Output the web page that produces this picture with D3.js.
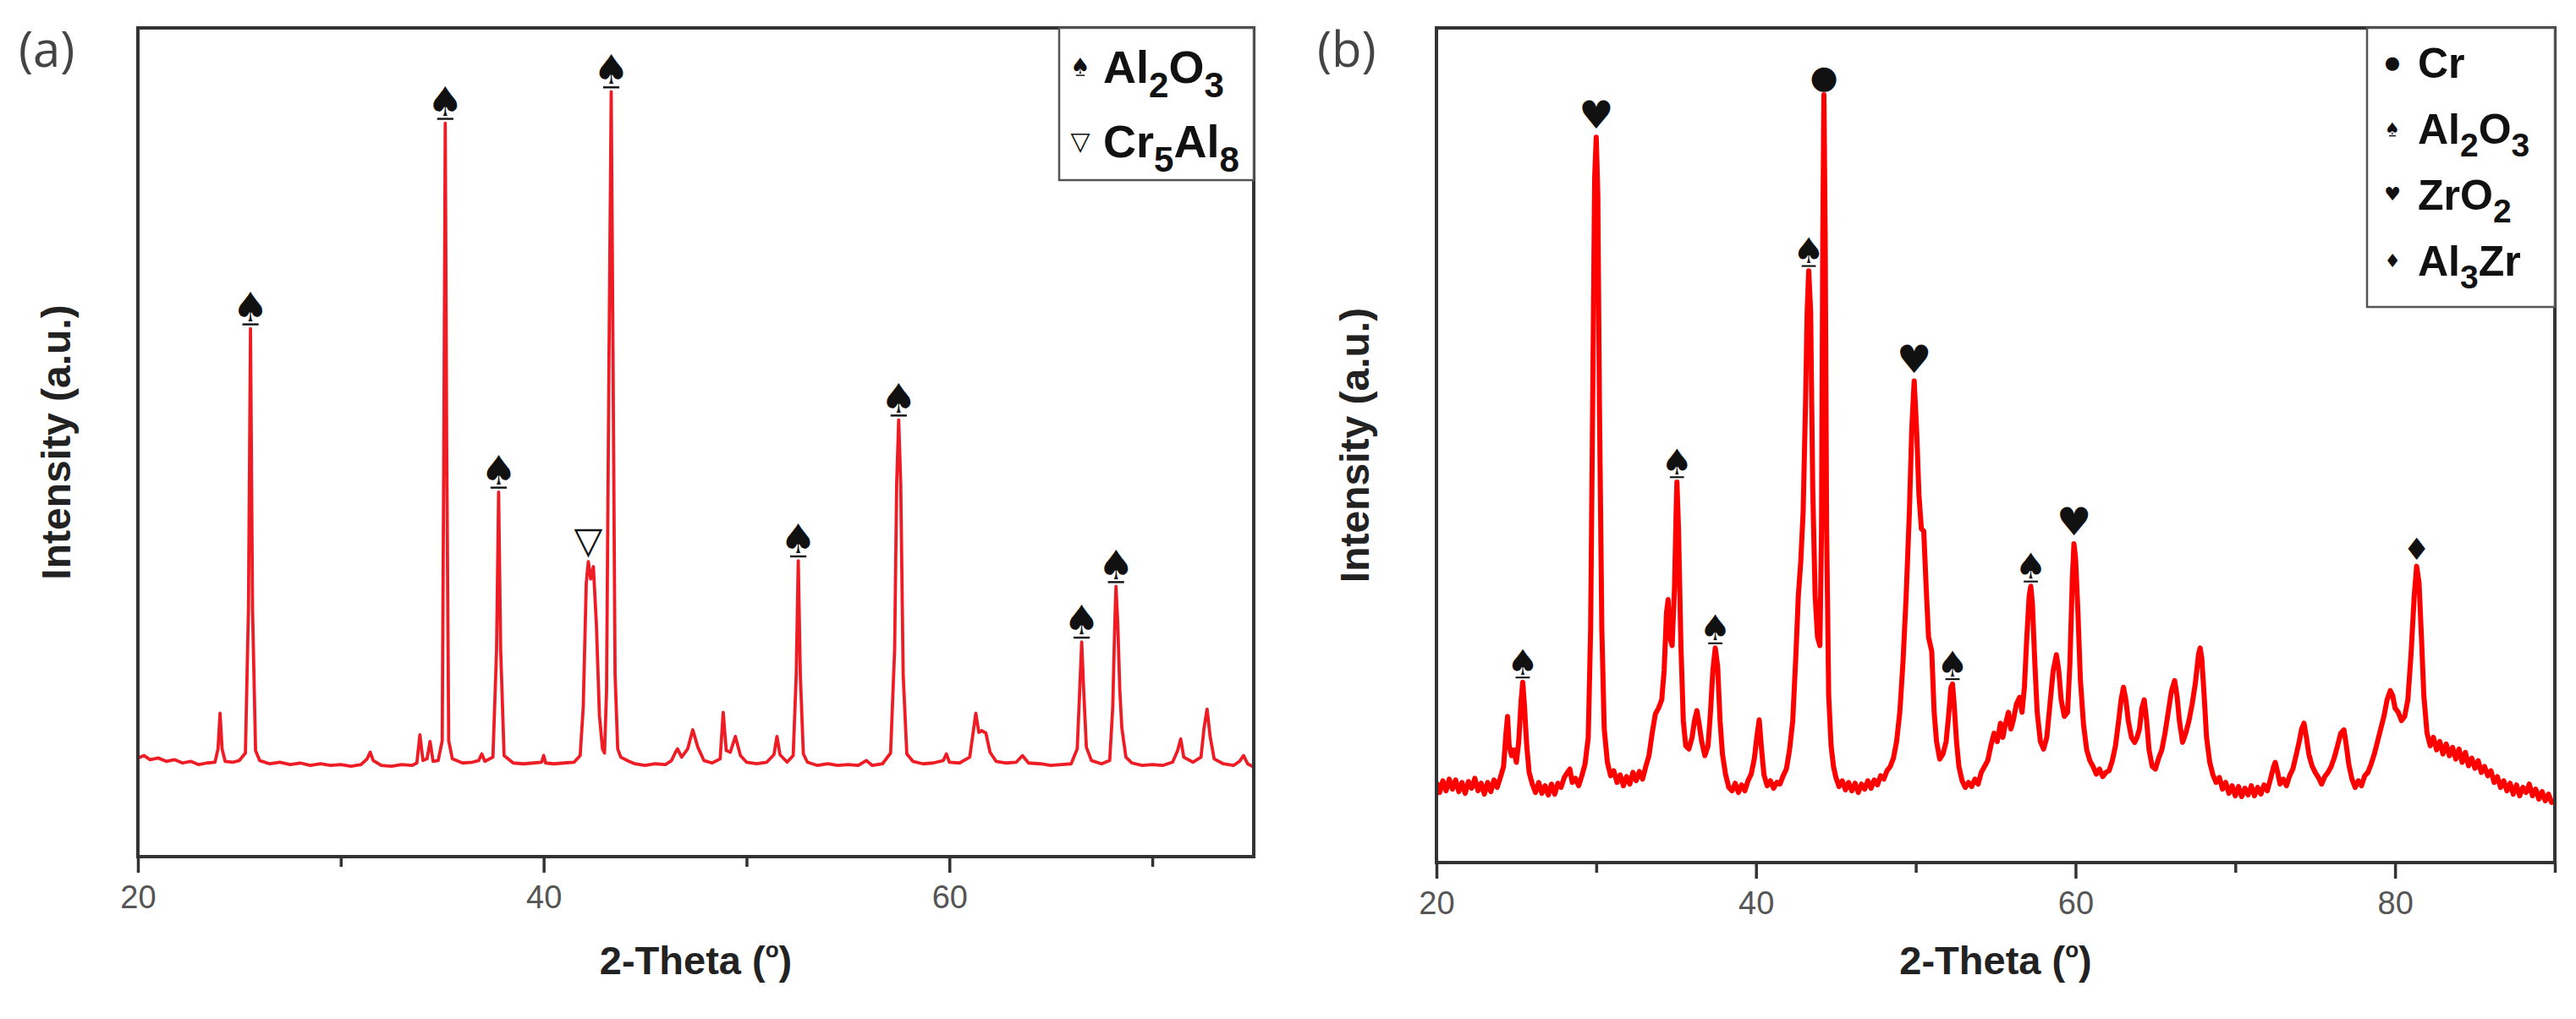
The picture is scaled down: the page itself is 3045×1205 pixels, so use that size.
<!DOCTYPE html>
<html>
<head>
<meta charset="utf-8">
<script src="https://cdn.jsdelivr.net/npm/d3@7"></script>
<style>
  body { margin: 0; background: #fff; }
</style>
</head>
<body>
<svg id="chart" width="3045" height="1205"></svg>
<script>

// ---- data (2-theta in degrees, intensity in a.u. 0-100) ----

var ticksMajorA = [20, 40, 60];
var ticksMinorA = [30, 50, 70];
var ticksMajorB = [20, 40, 60, 80];
var ticksMinorB = [30, 50, 70, 90];

var traceA = "20.0 11.9, 20.3 12.2, 20.6 11.7, 21.0 11.9, 21.4 11.5, 21.8 11.7, 22.2 11.3, 22.6 11.5, 23.0 11.1, 23.4 11.3, 23.8 11.4, 23.95 13.0, 24.05 17.3, 24.15 13.0, 24.3 11.5, 24.7 11.4, 25.0 11.6, 25.3 12.5, 25.45 30, 25.55 63.7, 25.65 30, 25.8 12.8, 26.0 11.6, 26.5 11.2, 27.0 11.4, 27.5 11.1, 28.0 11.3, 28.5 11.0, 29.0 11.2, 29.5 11.0, 30.0 11.1, 30.5 10.9, 31.0 11.1, 31.3 11.8, 31.45 12.6, 31.6 11.6, 32.0 11.0, 32.5 10.9, 33.0 11.1, 33.5 11.0, 33.75 11.3, 33.9 14.7, 34.05 11.6, 34.25 11.8, 34.4 13.9, 34.55 11.5, 34.8 11.6, 35.0 14, 35.08 50, 35.15 88.5, 35.22 50, 35.32 14, 35.5 11.8, 36.0 11.3, 36.5 11.4, 36.8 11.6, 36.95 12.4, 37.1 11.5, 37.5 12.0, 37.68 25, 37.78 44.0, 37.88 25, 38.05 12.2, 38.5 11.3, 39.0 11.2, 39.5 11.3, 39.9 11.4, 40.0 12.2, 40.1 11.3, 40.5 11.2, 41.0 11.3, 41.5 11.4, 41.8 12.2, 41.95 18, 42.1 33, 42.2 35.6, 42.32 33.5, 42.45 35.0, 42.6 28, 42.75 17, 42.9 13.0, 43.0 12.5, 43.1 20, 43.22 60, 43.33 92.3, 43.42 60, 43.52 22, 43.65 13, 43.8 12.0, 44.2 11.5, 44.5 11.2, 45.0 11.0, 45.5 11.2, 46.0 11.1, 46.3 11.6, 46.5 12.6, 46.6 13.0, 46.8 12.0, 47.1 13.0, 47.35 15.3, 47.6 13.2, 47.9 11.6, 48.3 11.3, 48.7 11.8, 48.85 17.4, 49.0 12.8, 49.2 12.6, 49.45 14.5, 49.7 12.2, 50.0 11.4, 50.5 11.2, 51.0 11.4, 51.35 12.3, 51.5 14.5, 51.65 12.3, 52.0 11.4, 52.3 12.2, 52.45 22, 52.55 35.7, 52.65 22, 52.8 12.4, 53.0 11.4, 53.5 11.0, 54.0 11.2, 54.5 11.0, 55.0 11.1, 55.5 11.0, 55.9 11.6, 56.2 11.0, 56.7 11.2, 57.1 12.5, 57.3 25, 57.4 45, 57.5 52.7, 57.6 45, 57.72 22, 57.9 12.4, 58.2 11.5, 58.7 11.2, 59.2 11.3, 59.7 11.6, 59.85 12.4, 60.0 11.4, 60.5 11.3, 61.0 12.0, 61.2 15.5, 61.3 17.3, 61.45 15.0, 61.6 15.2, 61.8 14.9, 62.0 12.6, 62.3 11.5, 62.8 11.3, 63.3 11.4, 63.6 12.2, 63.9 11.3, 64.5 11.2, 65.0 11.0, 65.5 11.1, 66.0 11.2, 66.3 13.0, 66.42 20, 66.52 25.9, 66.62 20, 66.75 13.2, 67.0 11.6, 67.5 11.2, 67.9 11.6, 68.05 18, 68.15 28, 68.21 32.6, 68.3 28, 68.4 20, 68.5 15.5, 68.7 12.0, 69.0 11.3, 69.5 11.0, 70.0 11.1, 70.5 11.0, 71.0 11.4, 71.25 12.8, 71.4 14.2, 71.55 12.0, 72.0 11.4, 72.4 12.0, 72.55 15.5, 72.7 17.8, 72.85 14.5, 73.05 11.8, 73.5 11.2, 74.0 11.0, 74.3 11.5, 74.5 12.2, 74.7 11.2, 75.0 10.8";

var traceB = "20.0 9.6, 20.2 8.4, 20.4 9.8, 20.6 8.6, 20.8 10.0, 21.0 8.8, 21.2 9.9, 21.4 8.5, 21.6 9.6, 21.8 8.3, 22.0 9.7, 22.2 8.9, 22.4 10.1, 22.6 8.6, 22.8 9.5, 23.0 8.2, 23.2 9.6, 23.4 8.5, 23.6 9.9, 23.8 9.0, 24.0 10.2, 24.2 11.5, 24.35 15.5, 24.45 17.5, 24.55 14.0, 24.7 12.8, 24.85 13.5, 25.0 12.0, 25.15 14.5, 25.3 19.5, 25.4 21.6, 25.5 19.0, 25.65 14.0, 25.8 10.8, 26.0 9.4, 26.2 8.4, 26.4 9.6, 26.6 8.3, 26.8 9.2, 27.0 8.1, 27.2 9.4, 27.4 8.2, 27.6 9.5, 27.8 9.0, 28.0 10.2, 28.2 10.8, 28.35 11.2, 28.5 9.6, 28.7 10.1, 28.9 9.2, 29.1 10.4, 29.3 11.8, 29.5 15.0, 29.65 28, 29.8 60, 29.9 82, 30.0 86.9, 30.1 80, 30.2 55, 30.35 28, 30.5 16, 30.7 12.0, 30.9 10.4, 31.1 11.0, 31.3 9.6, 31.5 10.5, 31.7 9.2, 31.9 10.3, 32.1 9.4, 32.3 10.8, 32.5 9.8, 32.7 10.9, 32.9 10.0, 33.1 11.5, 33.3 12.8, 33.5 15.5, 33.7 17.8, 33.9 18.5, 34.1 19.5, 34.25 23, 34.4 30, 34.5 31.5, 34.6 27, 34.75 26, 34.9 33, 35.0 42, 35.05 45.6, 35.15 40, 35.3 26, 35.45 17, 35.6 14.0, 35.8 13.6, 36.0 15.0, 36.15 17.0, 36.3 18.2, 36.45 16.5, 36.6 14.5, 36.8 12.8, 37.0 14.0, 37.15 18, 37.3 23, 37.45 25.7, 37.6 23.5, 37.75 17, 37.9 13.0, 38.1 10.5, 38.3 9.0, 38.5 8.6, 38.7 9.5, 38.9 8.4, 39.1 9.3, 39.3 8.6, 39.5 9.8, 39.7 10.6, 39.9 12.5, 40.05 15.0, 40.2 17.1, 40.35 13.5, 40.5 10.5, 40.7 9.2, 40.9 9.8, 41.1 8.9, 41.3 9.6, 41.5 9.4, 41.7 10.4, 41.9 11.2, 42.1 13.5, 42.3 17.0, 42.5 25, 42.65 32, 42.8 36, 42.95 42, 43.1 55, 43.2 66, 43.3 70.9, 43.42 66, 43.55 45, 43.7 32, 43.85 27, 44.0 26.0, 44.1 40, 44.18 75, 44.25 92.0, 44.33 75, 44.42 40, 44.55 20, 44.7 14.0, 44.85 11.5, 45.0 10.2, 45.2 9.1, 45.4 9.8, 45.6 8.7, 45.8 9.6, 46.0 8.6, 46.2 9.5, 46.4 8.4, 46.6 9.4, 46.8 8.8, 47.0 9.8, 47.2 8.9, 47.4 9.9, 47.6 9.3, 47.8 10.4, 48.0 10.0, 48.2 11.0, 48.4 11.5, 48.6 12.5, 48.8 14.5, 49.0 18, 49.2 24, 49.4 32, 49.6 42, 49.75 52, 49.9 57.7, 50.05 52, 50.2 44, 50.35 40, 50.5 39.7, 50.65 33, 50.8 27, 51.0 25.3, 51.15 18, 51.3 14.5, 51.5 12.4, 51.7 13.0, 51.9 14.5, 52.05 17.5, 52.2 21.0, 52.3 21.4, 52.4 19.0, 52.55 14.5, 52.7 11.5, 52.9 9.8, 53.1 9.0, 53.3 9.6, 53.5 9.1, 53.7 10.0, 53.9 9.4, 54.1 10.8, 54.3 11.5, 54.5 12.2, 54.7 14.0, 54.9 15.5, 55.1 14.5, 55.3 16.7, 55.45 15.0, 55.6 16.5, 55.8 18.0, 55.95 16.0, 56.1 17.0, 56.3 19.0, 56.5 19.8, 56.65 18.0, 56.8 21, 56.95 27, 57.1 32, 57.2 33.1, 57.3 31, 57.45 24, 57.6 18, 57.8 14.5, 58.0 13.6, 58.2 15.0, 58.4 19, 58.6 23, 58.8 24.9, 58.95 23, 59.1 19.5, 59.3 17.5, 59.5 18.0, 59.65 24, 59.8 34, 59.9 38.2, 60.0 36.5, 60.15 30, 60.3 22, 60.5 16.5, 60.7 13.5, 60.9 12.2, 61.1 11.5, 61.3 10.6, 61.5 11.2, 61.7 10.3, 61.9 10.8, 62.1 11.0, 62.3 12.2, 62.5 14.0, 62.7 17.0, 62.85 19.5, 63.0 21.0, 63.15 19.5, 63.3 17.0, 63.5 15.0, 63.7 14.4, 63.85 15.0, 64.0 16.0, 64.15 18.5, 64.3 19.5, 64.45 17.0, 64.6 13.5, 64.8 11.5, 65.0 11.2, 65.2 12.5, 65.4 13.5, 65.6 15.5, 65.8 18.0, 66.0 20.5, 66.2 21.8, 66.35 20.0, 66.5 17.0, 66.7 14.4, 66.9 15.5, 67.1 17.0, 67.3 19.0, 67.5 21.5, 67.7 25.0, 67.8 25.7, 67.9 24.5, 68.05 20.0, 68.2 15.0, 68.4 12.0, 68.6 10.5, 68.8 9.6, 69.0 10.2, 69.2 8.8, 69.4 9.6, 69.6 8.3, 69.8 9.2, 70.0 8.0, 70.2 9.1, 70.4 7.9, 70.6 8.9, 70.8 8.1, 71.0 9.2, 71.2 8.0, 71.4 9.0, 71.6 8.2, 71.8 9.3, 72.0 8.6, 72.2 10.0, 72.4 11.5, 72.5 12.0, 72.65 10.8, 72.8 9.4, 73.0 10.0, 73.2 9.2, 73.4 10.4, 73.6 11.2, 73.8 12.8, 74.0 14.5, 74.15 16.0, 74.3 16.7, 74.45 15.0, 74.6 13.0, 74.8 11.6, 75.0 10.8, 75.2 10.2, 75.4 9.4, 75.6 10.3, 75.8 10.8, 76.0 11.5, 76.2 12.6, 76.4 14.0, 76.6 15.5, 76.8 15.9, 76.95 14.0, 77.1 11.8, 77.3 10.0, 77.5 9.0, 77.7 9.8, 77.9 9.2, 78.1 10.4, 78.3 10.8, 78.5 11.8, 78.7 13.0, 78.9 14.5, 79.1 16.0, 79.3 17.5, 79.5 19.5, 79.7 20.6, 79.85 20.0, 80.0 18.5, 80.2 18.0, 80.4 17.0, 80.6 17.5, 80.8 19.5, 81.0 25, 81.2 32, 81.35 35.5, 81.5 33.5, 81.65 27, 81.8 20, 82.0 15.5, 82.2 14.0, 82.4 15.0, 82.6 13.5, 82.8 14.5, 83.0 13.0, 83.2 14.2, 83.4 12.8, 83.6 13.8, 83.8 12.4, 84.0 13.6, 84.2 12.0, 84.4 13.2, 84.6 11.6, 84.8 12.5, 85.0 11.3, 85.2 12.2, 85.4 10.8, 85.6 11.5, 85.8 10.4, 86.0 11.0, 86.2 9.6, 86.4 10.3, 86.6 9.0, 86.8 9.8, 87.0 8.6, 87.2 9.5, 87.4 8.2, 87.6 9.3, 87.8 8.0, 88.0 9.0, 88.2 8.4, 88.4 9.4, 88.6 8.0, 88.8 8.8, 89.0 7.6, 89.2 8.5, 89.4 7.4, 89.6 8.2, 89.8 7.2, 90.0 7.4";

// phase markers: [2-theta, symbol]
var markersA = [[25.55, "spade"], [35.15, "spade"], [37.78, "spade"], [42.2, "tri"], [43.33, "spade"], [52.55, "spade"], [57.5, "spade"], [66.52, "spade"], [68.21, "spade"]];
var markersB = [[25.4, "spade"], [30.0, "heart"], [35.05, "spade"], [37.45, "spade"], [43.3, "spade"], [44.25, "dot"], [49.9, "heart"], [52.3, "spade"], [57.2, "spade"], [59.9, "heart"], [81.35, "diamond"]];

// legend entries: [symbol, label]  ("_n" = subscript)
var legendA = [["spade", "Al_2O_3"], ["tri", "Cr_5Al_8"]];
var legendB = [["dot", "Cr"], ["spade", "Al_2O_3"], ["heart", "ZrO_2"], ["diamond", "Al_3Zr"]];

// ---------------------------------------------------------------

var glyphs = {
    spade:   "\u2660",
    heart:   "\u2665",
    dot:     "\u25CF",
    diamond: "\u2666",
    tri:     "\u25BD"
};

var svg = d3.select("#chart");
var sansFont = "'Liberation Sans', Arial, sans-serif";

function parseTrace(s) {
    return s.split(",").map(function (p) {
        var v = p.trim().split(/\s+/);
        return { t: +v[0], i: +v[1] };
    });
}

// writes "Al_2O_3" with real subscripts
function formula(sel, label, size, subSize, shift) {
    var parts = label.split(/(_\d)/).filter(function (s) { return s.length; });
    var down = false;
    parts.forEach(function (s) {
        if (s[0] === "_") {
            sel.append("tspan").text(s.slice(1)).attr("font-size", subSize).attr("dy", shift);
            down = true;
        } else {
            sel.append("tspan").text(s).attr("font-size", size).attr("dy", down ? -shift : 0);
            down = false;
        }
    });
}

function drawGlyph(g, type, cx, baseY, size, underline) {
    g.append("text")
        .attr("x", cx)
        .attr("y", baseY)
        .attr("text-anchor", "middle")
        .attr("font-family", "'DejaVu Sans', sans-serif")
        .attr("font-size", size)
        .attr("fill", "#111")
        .text(glyphs[type]);
    if (underline && type === "spade") {
        g.append("line")
            .attr("x1", cx - size * 0.2).attr("x2", cx + size * 0.2)
            .attr("y1", baseY + size * 0.08).attr("y2", baseY + size * 0.08)
            .attr("stroke", "#111").attr("stroke-width", Math.max(1.5, size * 0.05));
    }
}

function drawPanel(p) {
    var data = parseTrace(p.trace);
    var x = d3.scaleLinear().domain(p.xDomain).range([p.left, p.right]);
    var y = d3.scaleLinear().domain([0, 100]).range([p.bottom, p.top]);
    var g = svg.append("g");

    svg.append("clipPath").attr("id", "clip-" + p.name)
        .append("rect")
        .attr("x", p.left).attr("y", p.top)
        .attr("width", p.right - p.left).attr("height", p.bottom - p.top);

    var line = d3.line()
        .x(function (d) { return x(d.t); })
        .y(function (d) { return y(d.i); });

    g.append("path")
        .datum(data)
        .attr("clip-path", "url(#clip-" + p.name + ")")
        .attr("d", line)
        .attr("fill", "none")
        .attr("stroke", p.lineColor)
        .attr("stroke-width", p.lineWidth)
        .attr("stroke-linejoin", "round");

    // x axis, major + minor ticks
    var gx = g.append("g")
        .attr("transform", "translate(0," + p.bottom + ")")
        .call(d3.axisBottom(x).tickValues(p.major).tickSize(19).tickPadding(15).tickFormat(d3.format("d")));
    gx.append("g")
        .call(d3.axisBottom(x).tickValues(p.minor).tickSize(12).tickFormat(""));
    gx.selectAll(".domain").remove();
    gx.selectAll("line").attr("stroke", "#333").attr("stroke-width", 3.5);
    gx.selectAll("text")
        .attr("font-family", sansFont)
        .attr("font-size", 38)
        .attr("fill", "#555");

    // frame
    g.append("rect")
        .attr("x", p.left).attr("y", p.top)
        .attr("width", p.right - p.left).attr("height", p.bottom - p.top)
        .attr("fill", "none")
        .attr("stroke", "#333")
        .attr("stroke-width", 4);

    // phase markers sit above the local maximum of the trace
    p.markers.forEach(function (m) {
        var near = data.filter(function (d) { return Math.abs(d.t - m[0]) <= 0.25; });
        var top = d3.max(near, function (d) { return d.i; });
        var size = p.glyphSize[m[1]];
        drawGlyph(g, m[1], x(m[0]), y(top) - p.glyphGap[m[1]], size, true);
    });

    // legend
    var lg = g.append("g");
    lg.append("rect")
        .attr("x", p.legend.x).attr("y", p.top)
        .attr("width", p.right - p.legend.x).attr("height", p.legend.h)
        .attr("fill", "#fff")
        .attr("stroke", "#555")
        .attr("stroke-width", 2.5);
    p.legendItems.forEach(function (it, k) {
        var cy = p.legend.y0 + k * p.legend.step;
        drawGlyph(lg, it[0], p.legend.symX, cy + p.legend.symShift[it[0]], p.legend.symSize[it[0]], true);
        var t = lg.append("text")
            .attr("x", p.legend.textX)
            .attr("y", cy + p.legend.fontSize * 0.36)
            .attr("font-family", sansFont)
            .attr("font-weight", "bold")
            .attr("fill", "#111");
        formula(t, it[1], p.legend.fontSize, p.legend.fontSize * 0.78, p.legend.fontSize * 0.3);
    });

    // axis titles
    var xt = g.append("text")
        .attr("x", (p.left + p.right) / 2)
        .attr("y", 1152)
        .attr("text-anchor", "middle")
        .attr("font-family", sansFont)
        .attr("font-weight", "bold")
        .attr("font-size", 47)
        .attr("fill", "#222");
    xt.append("tspan").text("2-Theta (");
    xt.append("tspan").text("o").attr("font-size", 26).attr("dy", -20);
    xt.append("tspan").text(")").attr("dy", 20);

    g.append("text")
        .attr("transform", "translate(" + (p.left - 80) + "," + ((p.top + p.bottom) / 2) + ") rotate(-90)")
        .attr("text-anchor", "middle")
        .attr("font-family", sansFont)
        .attr("font-weight", "bold")
        .attr("font-size", 48)
        .attr("fill", "#222")
        .text("Intensity (a.u.)");

    // panel letter
    g.append("text")
        .attr("x", p.left - 141)
        .attr("y", 79)
        .attr("font-family", "'Open Sans', sans-serif")
        .attr("font-size", 58)
        .attr("fill", "#444")
        .text(p.letter);
}

drawPanel({
    name: "a", letter: "(a)", trace: traceA,
    xDomain: [20, 75], left: 163, right: 1482, top: 33, bottom: 1013,
    major: ticksMajorA, minor: ticksMinorA, lineColor: "#ee1c24", lineWidth: 3.8,
    markers: markersA,
    glyphSize: { spade: 48, tri: 44 },
    glyphGap: { spade: 9, tri: 10 },
    legendItems: legendA,
    legend: { x: 1252, h: 180, y0: 79, step: 88, symX: 1277, textX: 1304, fontSize: 54,
              symSize: { spade: 26, tri: 30 }, symShift: { spade: 8, tri: 10 } }
});

drawPanel({
    name: "b", letter: "(b)", trace: traceB,
    xDomain: [20, 90], left: 1698, right: 3020, top: 33, bottom: 1020,
    major: ticksMajorB, minor: ticksMinorB, lineColor: "#ff0000", lineWidth: 6,
    markers: markersB,
    glyphSize: { spade: 42, heart: 46, dot: 38, diamond: 36 },
    glyphGap: { spade: 9, heart: 10, dot: 8, diamond: 8 },
    legendItems: legendB,
    legend: { x: 2798, h: 330, y0: 74, step: 78, symX: 2828, textX: 2858, fontSize: 50,
              symSize: { dot: 21, spade: 20, heart: 22, diamond: 22 }, symShift: { dot: 7, spade: 7, heart: 7, diamond: 8 } }
});

</script>
</body>
</html>
